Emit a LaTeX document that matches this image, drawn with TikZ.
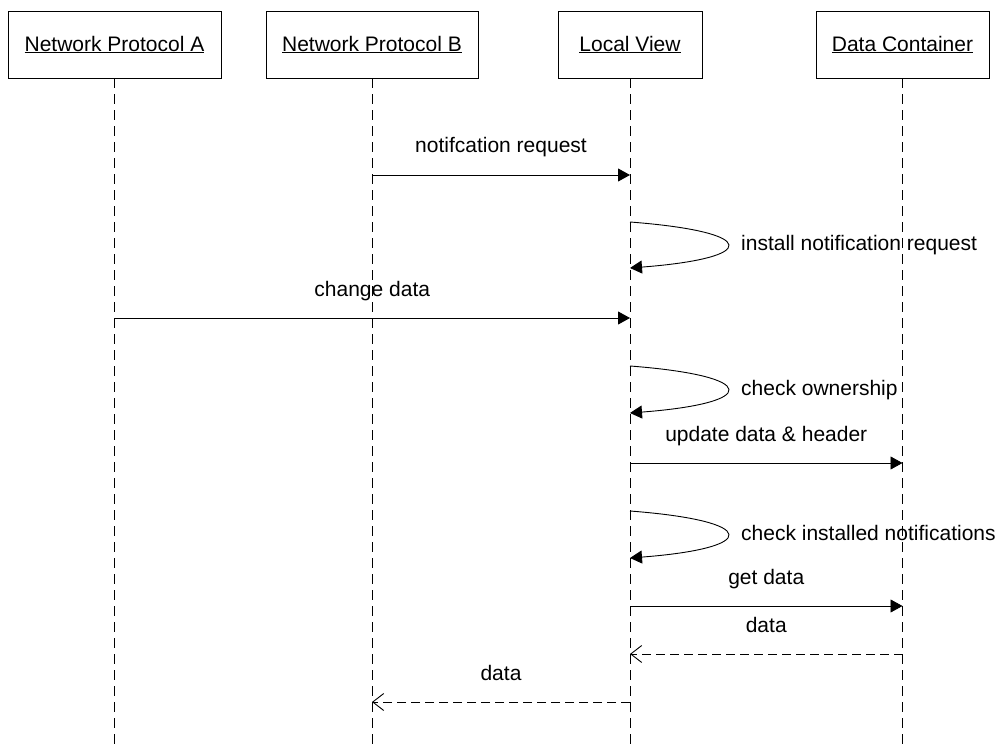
\documentclass[tikz,border=0pt]{standalone}
\usepackage{fontspec}
\setmainfont{Liberation Sans}
\usetikzlibrary{arrows.meta}
\begin{document}
\begin{tikzpicture}[x=1pt,y=-1pt,
  txt/.style={font=\fontsize{21}{25}\selectfont},
  obj/.style={draw, line width=0.9pt, minimum height=67pt, inner sep=0pt, txt},
  lifeline/.style={line width=0.9pt, dash pattern=on 10pt off 6pt},
  msg/.style={line width=0.9pt, -{Triangle[length=12pt,width=13pt]}},
  reply/.style={line width=0.9pt, dash pattern=on 9pt off 5pt, -{Straight Barb[length=11pt,width=17pt]}},
  lbl/.style={txt, inner sep=0pt, anchor=base},
  selflbl/.style={txt, inner sep=0pt, anchor=base west}]
\useasboundingbox (0,0) rectangle (1002,749);

% objects
\node[obj, minimum width=213pt] (pa) at (114.5,44.5) {\underline{Network Protocol A}};
\node[obj, minimum width=212pt] (pb) at (372,44.5) {\underline{Network Protocol B}};
\node[obj, minimum width=144pt] (lv) at (630,44.5) {\underline{Local View}};
\node[obj, minimum width=173pt] (dc) at (902.5,44.5) {\underline{Data Container}};

% lifelines
\coordinate (pa-end) at (pa.south |- 0,749);
\coordinate (pb-end) at (pb.south |- 0,749);
\coordinate (lv-end) at (lv.south |- 0,749);
\coordinate (dc-end) at (dc.south |- 0,749);
\draw[lifeline] (pa.south) -- (pa-end);
\draw[lifeline] (pb.south) -- (pb-end);
\draw[lifeline] (lv.south) -- (lv-end);
\draw[lifeline] (dc.south) -- (dc-end);

% message anchor points on the lifelines
\coordinate (b1) at (pb.south |- 0,175);
\coordinate (l1) at (lv.south |- 0,175);
\coordinate (l2a) at (lv.south |- 0,222);
\coordinate (l2b) at (lv.south |- 0,268);
\coordinate (a3) at (pa.south |- 0,318);
\coordinate (l3) at (lv.south |- 0,318);
\coordinate (l4a) at (lv.south |- 0,366);
\coordinate (l4b) at (lv.south |- 0,413);
\coordinate (l5) at (lv.south |- 0,463);
\coordinate (d5) at (dc.south |- 0,463);
\coordinate (l6a) at (lv.south |- 0,511);
\coordinate (l6b) at (lv.south |- 0,558);
\coordinate (l7) at (lv.south |- 0,606);
\coordinate (d7) at (dc.south |- 0,606);
\coordinate (d8) at (dc.south |- 0,654);
\coordinate (l8) at (lv.south |- 0,654);
\coordinate (l9) at (lv.south |- 0,702);
\coordinate (b9) at (pb.south |- 0,702);

% messages
\draw[msg] (b1) -- node[lbl, yshift=22pt] {notifcation request} (l1);
\draw[msg] (l2a) .. controls +(130,10) and +(130,-10) .. (l2b);
\node[selflbl] (t2) at (741,251) {install notification request};
\draw[msg] (a3) -- node[lbl, yshift=22pt] {change data} (l3);
\draw[msg] (l4a) .. controls +(130,10) and +(130,-10) .. (l4b);
\node[selflbl] (t4) at (741,395) {check ownership};
\draw[msg] (l5) -- node[lbl, yshift=22pt] {update data \& header} (d5);
\draw[msg] (l6a) .. controls +(130,10) and +(130,-10) .. (l6b);
\node[selflbl] (t6) at (741,540) {check installed notifications};
\draw[msg] (l7) -- node[lbl, yshift=22pt] {get data} (d7);
\draw[reply] (d8) -- node[lbl, yshift=22pt] {data} (l8);
\draw[reply] (l9) -- node[lbl, yshift=22pt] {data} (b9);
\end{tikzpicture}
\end{document}
